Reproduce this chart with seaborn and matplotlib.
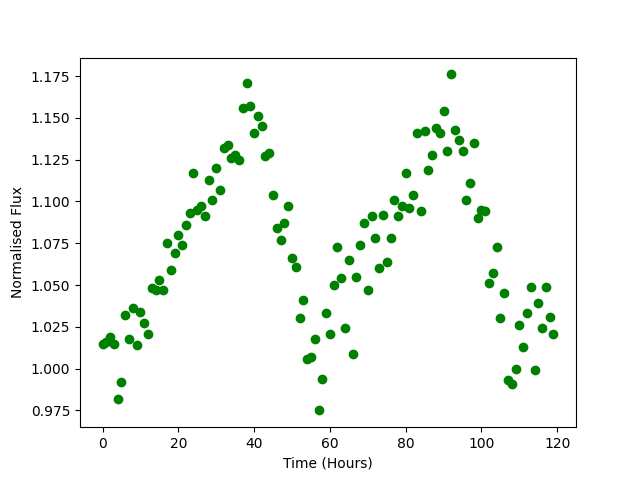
import numpy as np
import pandas as pd
import matplotlib
matplotlib.use("Agg")
import matplotlib.pyplot as plt
import seaborn as sns

# time in hours, one reading per hour
hours = list(range(120))

# normalised flux
flux = [
    1.015, 1.016, 1.019, 1.015, 0.982, 0.992, 1.032, 1.018, 1.036, 1.014,
    1.034, 1.027, 1.021, 1.048, 1.047, 1.053, 1.047, 1.075, 1.059, 1.069,
    1.080, 1.074, 1.086, 1.093, 1.117, 1.095, 1.097, 1.091, 1.113, 1.101,
    1.120, 1.107, 1.132, 1.134, 1.126, 1.128, 1.125, 1.156, 1.171, 1.157,
    1.141, 1.151, 1.145, 1.127, 1.129, 1.104, 1.084, 1.077, 1.087, 1.097,
    1.066, 1.061, 1.030, 1.041, 1.006, 1.007, 1.018, 0.975, 0.994, 1.033,
    1.021, 1.050, 1.073, 1.054, 1.024, 1.065, 1.009, 1.055, 1.074, 1.087,
    1.047, 1.091, 1.078, 1.060, 1.092, 1.064, 1.078, 1.101, 1.091, 1.097,
    1.117, 1.096, 1.104, 1.141, 1.094, 1.142, 1.119, 1.128, 1.144, 1.141,
    1.154, 1.130, 1.176, 1.143, 1.137, 1.130, 1.101, 1.111, 1.135, 1.090,
    1.095, 1.094, 1.051, 1.057, 1.073, 1.030, 1.045, 0.993, 0.991, 1.000,
    1.026, 1.013, 1.033, 1.049, 0.999, 1.039, 1.024, 1.049, 1.031, 1.021,
]

df = pd.DataFrame({"hours": hours, "flux": flux})

fig, ax = plt.subplots(figsize=(6.4, 4.8), dpi=100)
sns.scatterplot(data=df, x="hours", y="flux", ax=ax, color="green",
                s=36, edgecolor="green", linewidth=1)

ax.set_xlabel("Time (Hours)")
ax.set_ylabel("Normalised Flux")
ax.set_xticks([0, 20, 40, 60, 80, 100, 120])

plt.savefig("out.png")
